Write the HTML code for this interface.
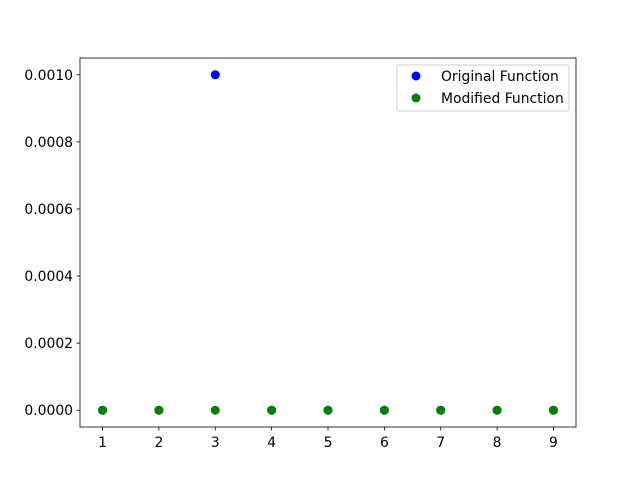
<!DOCTYPE html>
<html><head><meta charset="utf-8"><style>
body{margin:0;background:#fff}
svg text{font-family:"DejaVu Sans","Liberation Sans",sans-serif;font-size:13.9px;fill:#000}
</style></head><body>
<svg id="chart" width="640" height="480" xmlns="http://www.w3.org/2000/svg">
<rect width="640" height="480" fill="#fff"/>
<g id="plot"></g>
</svg>
<script>
const categories=[1,2,3,4,5,6,7,8,9];
const originalValues=[0,0,0.001,0,0,0,0,0,0];
const modifiedValues=[0,0,0,0,0,0,0,0,0];
const yTicks=[0,0.0002,0.0004,0.0006,0.0008,0.0010];
const yTickLabels=["0.0000","0.0002","0.0004","0.0006","0.0008","0.0010"];
const xTickLabels=["1","2","3","4","5","6","7","8","9"];
const L=80,R=576,T=58,B=427;
const xmin=0.6,xmax=9.4,ymin=-0.00005,ymax=0.00105;
const X=v=>L+(v-xmin)/(xmax-xmin)*(R-L);
const Y=v=>B-(v-ymin)/(ymax-ymin)*(B-T);
const g=document.getElementById('plot');
const NS='http://www.w3.org/2000/svg';
function mk(t,a,p){const e=document.createElementNS(NS,t);for(const k in a)e.setAttribute(k,a[k]);(p||g).appendChild(e);return e;}
let e;
e=mk('rect',{x:L,y:T,width:R-L,height:B-T,fill:'none',stroke:'#000','stroke-width':0.8});


yTicks.forEach((v,i)=>{
 e=mk('line',{x1:L-3.5,x2:L,y1:Y(v),y2:Y(v),stroke:'#000','stroke-width':0.8});
 
 
 e=mk('text',{x:L-7,y:Y(v)+5,'text-anchor':'end'});e.textContent=yTickLabels[i];
 
 
});
categories.forEach((c,i)=>{
 e=mk('line',{x1:X(c),x2:X(c),y1:B,y2:B+3.5,stroke:'#000','stroke-width':0.8});
 
 
 e=mk('text',{x:X(c),y:B+20,'text-anchor':'middle'});e.textContent=xTickLabels[i];
 
 
});
categories.forEach((c,i)=>{
 e=mk('circle',{cx:X(c),cy:Y(originalValues[i]),r:4.5,fill:'#0000ff'});
 
 
});
categories.forEach((c,i)=>{
 e=mk('circle',{cx:X(c),cy:Y(modifiedValues[i]),r:4.5,fill:'#008000'});
 
 
});
const lg=mk('g',{});


mk('rect',{x:397,y:65,width:172,height:46,rx:2,fill:'#fff','fill-opacity':0.8,stroke:'#ccc'},lg);
[["Original Function","#0000ff",76],["Modified Function","#008000",98]].forEach(d=>{
 e=mk('circle',{cx:416,cy:d[2],r:4.5,fill:d[1]},lg);
 
 
 e=mk('text',{x:441,y:d[2]+5},lg);e.textContent=d[0];
 
 
});
</script>
</body></html>
